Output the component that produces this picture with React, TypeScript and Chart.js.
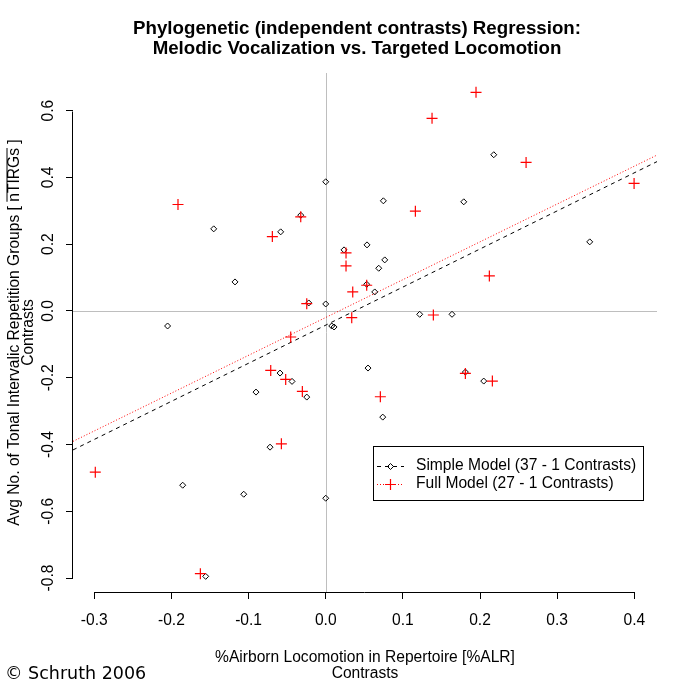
import React, { useEffect, useRef } from "react";
import { Chart, registerables } from "chart.js";

Chart.register(...registerables);

// Simple model contrasts (diamonds)
const simpleX = [
  0.0, -0.1452, -0.0584, -0.0324, -0.1176, 0.0237, -0.022, 0.0, -0.205, 0.0078,
  0.0108, 0.2178, 0.0747, 0.1789, 0.3422, 0.0535, 0.0765, 0.0687, 0.0531, 0.0635,
  0.1218, 0.1637, -0.0592, -0.0437, -0.0904, -0.0246, -0.0722, -0.1854, -0.1063, 0.0,
  -0.1556, 0.0548, 0.181, 0.2048, 0.0739,
];
const simpleY = [
  0.387, 0.246, 0.237, 0.287, 0.087, 0.183, 0.024, 0.021, -0.045, -0.045,
  -0.048, 0.468, 0.33, 0.327, 0.207, 0.198, 0.153, 0.128, 0.08, 0.057,
  -0.01, -0.01, -0.186, -0.211, -0.243, -0.258, -0.408, -0.522, -0.549, -0.561,
  -0.795, -0.171, -0.183, -0.21, -0.318,
];

// Full model contrasts (red crosses)
const fullX = [
  -0.1915, -0.0692, -0.0324, 0.0263, 0.0263, 0.035, -0.0246, 0.0337, 0.1948, 0.1378,
  0.2597, 0.3997, 0.1162, 0.2121, 0.0531, 0.1395, -0.0454, -0.0713, -0.0519, -0.0303,
  -0.0575, -0.2987, -0.1625, 0.181, 0.216, 0.0708,
];
const fullY = [
  0.319, 0.223, 0.282, 0.174, 0.135, 0.057, 0.022, -0.02, 0.655, 0.577,
  0.445, 0.382, 0.299, 0.105, 0.077, -0.012, -0.078, -0.178, -0.205, -0.241,
  -0.398, -0.483, -0.787, -0.187, -0.21, -0.257,
];

// Regression lines: [intercept, slope]
const simpleFit = [-0.0425, 1.141];
const fullFit = [-0.0195, 1.133];

const xTicks = [-0.3, -0.2, -0.1, 0.0, 0.1, 0.2, 0.3, 0.4];
const yTicks = [-0.8, -0.6, -0.4, -0.2, 0.0, 0.2, 0.4, 0.6];

const xRange = [-0.3276, 0.4294];
const yRange = [-0.8419, 0.7129];

const titleLines = [
  "Phylogenetic (independent contrasts) Regression:",
  "Melodic Vocalization vs. Targeted Locomotion",
];
const xLabelLines = ["%Airborn Locomotion in Repertoire [%ALR]", "Contrasts"];
const yLabelPrefix = "Avg No. of Tonal Intervalic Repetition Groups [ ";
const yLabelOver = "nTIRGs";
const yLabelSuffix = " ]";
const yLabel2 = "Contrasts";
const legendLabels = ["Simple Model (37 - 1 Contrasts)", "Full Model (27 - 1 Contrasts)"];
const copyright = "\u00A9 Schruth 2006";

const FONT = "'Liberation Sans', Arial, sans-serif";
const FS = 15.6;

const fmt = (v: number) => (Math.abs(v) < 1e-9 ? "0.0" : v.toFixed(1));

const fitPoints = (fit: number[]) =>
  xRange.map((x) => ({ x, y: fit[0] + fit[1] * x }));

const decorPlugin = {
  id: "decor",
  beforeDatasetsDraw(chart: any) {
    const { ctx, chartArea: a, scales } = chart;
    const px = Math.round(scales.x.getPixelForValue(0)) + 0.5;
    const py = Math.round(scales.y.getPixelForValue(0)) + 0.5;
    ctx.save();
    ctx.strokeStyle = "#bebebe";
    ctx.lineWidth = 1;
    ctx.beginPath();
    ctx.moveTo(px, a.top);
    ctx.lineTo(px, a.bottom);
    ctx.moveTo(a.left, py);
    ctx.lineTo(a.right, py);
    ctx.stroke();
    ctx.restore();
  },
  afterDraw(chart: any) {
    const { ctx, chartArea: a, scales } = chart;
    const xs = scales.x;
    const ys = scales.y;
    ctx.save();
    ctx.strokeStyle = "#000";
    ctx.lineWidth = 1;
    // axis lines spanning first to last tick
    const by = Math.round(a.bottom) + 0.5;
    ctx.beginPath();
    ctx.moveTo(Math.round(xs.getPixelForValue(xTicks[0])) + 0.5, by);
    ctx.lineTo(Math.round(xs.getPixelForValue(xTicks[xTicks.length - 1])) + 0.5, by);
    const lx = Math.round(a.left) - 0.5;
    ctx.moveTo(lx, Math.round(ys.getPixelForValue(yTicks[0])) + 0.5);
    ctx.lineTo(lx, Math.round(ys.getPixelForValue(yTicks[yTicks.length - 1])) + 0.5);
    ctx.stroke();

    const cx = (a.left + a.right) / 2;
    // title
    ctx.fillStyle = "#000";
    ctx.textAlign = "center";
    ctx.textBaseline = "middle";
    ctx.font = `bold ${FS * 1.2}px ${FONT}`;
    ctx.fillText(titleLines[0], 357, 29);
    ctx.fillText(titleLines[1], 357, 49);

    // x label
    ctx.font = `${FS}px ${FONT}`;
    ctx.fillText(xLabelLines[0], cx, 658);
    ctx.fillText(xLabelLines[1], cx, 674);

    // y label (rotated)
    const cy = (a.top + a.bottom) / 2;
    ctx.save();
    ctx.translate(14.5, cy);
    ctx.rotate(-Math.PI / 2);
    const full = yLabelPrefix + yLabelOver + yLabelSuffix;
    const w = ctx.measureText(full).width;
    const wp = ctx.measureText(yLabelPrefix).width;
    const wo = ctx.measureText(yLabelOver).width;
    ctx.textAlign = "left";
    ctx.fillText(full, -w / 2, 0);
    ctx.beginPath();
    ctx.moveTo(-w / 2 + wp, -7.5);
    ctx.lineTo(-w / 2 + wp + wo, -7.5);
    ctx.stroke();
    ctx.textAlign = "center";
    ctx.fillText(yLabel2, 0, 14);
    ctx.restore();

    // legend
    const bx = 373.5, bt = 446.5, bw = 270, bh = 54;
    ctx.strokeStyle = "#000";
    ctx.strokeRect(bx, bt, bw, bh);
    const rows = [466, 484];
    const dsMarkers = [chart.data.datasets[0], chart.data.datasets[1]];
    const lineStyles = [chart.data.datasets[2], chart.data.datasets[3]];
    rows.forEach((ry, i) => {
      const ls = lineStyles[i];
      ctx.save();
      ctx.strokeStyle = ls.borderColor;
      ctx.setLineDash(ls.borderDash);
      ctx.beginPath();
      ctx.moveTo(377, Math.round(ry) + 0.5);
      ctx.lineTo(404, Math.round(ry) + 0.5);
      ctx.stroke();
      ctx.restore();
      const m = dsMarkers[i];
      ctx.save();
      ctx.setLineDash([]);
      ctx.strokeStyle = m.borderColor;
      ctx.lineWidth = m.borderWidth;
      const r = m.pointRadius;
      const mx = 390.5, my = Math.round(ry) + 0.5;
      ctx.beginPath();
      if (m.pointStyle === "rectRot") {
        ctx.moveTo(mx - r, my);
        ctx.lineTo(mx, my - r);
        ctx.lineTo(mx + r, my);
        ctx.lineTo(mx, my + r);
        ctx.closePath();
      } else {
        ctx.moveTo(mx - r, my);
        ctx.lineTo(mx + r, my);
        ctx.moveTo(mx, my - r);
        ctx.lineTo(mx, my + r);
      }
      ctx.stroke();
      ctx.restore();
      ctx.fillStyle = "#000";
      ctx.textAlign = "left";
      ctx.textBaseline = "middle";
      ctx.font = `${FS}px ${FONT}`;
      ctx.fillText(legendLabels[i], 416, ry);
    });

    // copyright
    ctx.font = `17.5px 'DejaVu Sans', sans-serif`;
    ctx.textAlign = "left";
    ctx.textBaseline = "middle";
    ctx.fillText(copyright, 5, 674);
    ctx.restore();
  },
};

export default function App() {
  const ref = useRef<HTMLCanvasElement | null>(null);
  useEffect(() => {
    document.body.style.margin = "0";
    const canvas = ref.current;
    if (!canvas) return;
    const chart = new Chart(canvas, {
      type: "scatter",
      data: {
        datasets: [
          {
            label: legendLabels[0],
            data: simpleX.map((x, i) => ({ x, y: simpleY[i] })),
            pointStyle: "rectRot",
            pointRadius: 3,
            borderColor: "#000000",
            backgroundColor: "rgba(0,0,0,0)",
            borderWidth: 1,
            order: 1,
          } as any,
          {
            label: legendLabels[1],
            data: fullX.map((x, i) => ({ x, y: fullY[i] })),
            pointStyle: "cross",
            pointRadius: 5.5,
            borderColor: "#ff0000",
            backgroundColor: "#ff0000",
            borderWidth: 1.2,
            order: 0,
          } as any,
          {
            type: "line",
            label: "Simple fit",
            data: fitPoints(simpleFit),
            borderColor: "#000000",
            borderDash: [4, 4],
            borderWidth: 1,
            pointRadius: 0,
            fill: false,
            order: 3,
          } as any,
          {
            type: "line",
            label: "Full fit",
            data: fitPoints(fullFit),
            borderColor: "#ff0000",
            borderDash: [1, 2],
            borderWidth: 1,
            pointRadius: 0,
            fill: false,
            order: 2,
          } as any,
        ],
      },
      options: {
        animation: false,
        responsive: false,
        devicePixelRatio: 1,
        layout: { padding: { top: 73, right: 37, left: 0, bottom: 0 } },
        plugins: {
          legend: { display: false },
          tooltip: { enabled: false },
          title: { display: false },
        },
        scales: {
          x: {
            type: "linear",
            min: xRange[0],
            max: xRange[1],
            afterBuildTicks: (s: any) => {
              s.ticks = xTicks.map((v) => ({ value: v }));
            },
            afterFit: (s: any) => {
              s.height = 92;
            },
            grid: {
              display: true,
              drawOnChartArea: false,
              drawTicks: true,
              tickLength: 7,
              color: "#000000",
            },
            border: { display: false },
            ticks: {
              autoSkip: false,
              maxRotation: 0,
              minRotation: 0,
              padding: 12,
              color: "#000000",
              font: { family: FONT, size: FS },
              callback: (v: any) => fmt(Number(v)),
            },
          },
          y: {
            type: "linear",
            min: yRange[0],
            max: yRange[1],
            afterBuildTicks: (s: any) => {
              s.ticks = yTicks.map((v) => ({ value: v }));
            },
            afterFit: (s: any) => {
              s.width = 73;
            },
            grid: {
              display: true,
              drawOnChartArea: false,
              drawTicks: true,
              tickLength: 7,
              color: "#000000",
            },
            border: { display: false },
            ticks: {
              autoSkip: false,
              minRotation: 90,
              maxRotation: 90,
              crossAlign: "center",
              padding: 4,
              color: "#000000",
              font: { family: FONT, size: FS },
              callback: (v: any) => fmt(Number(v)),
            },
          },
        },
      } as any,
      plugins: [decorPlugin],
    });
    return () => chart.destroy();
  }, []);
  return (
    <div style={{ width: 694, height: 684, background: "#fff" }}>
      <canvas ref={ref} width={694} height={684} style={{ display: "block" }} />
    </div>
  );
}
